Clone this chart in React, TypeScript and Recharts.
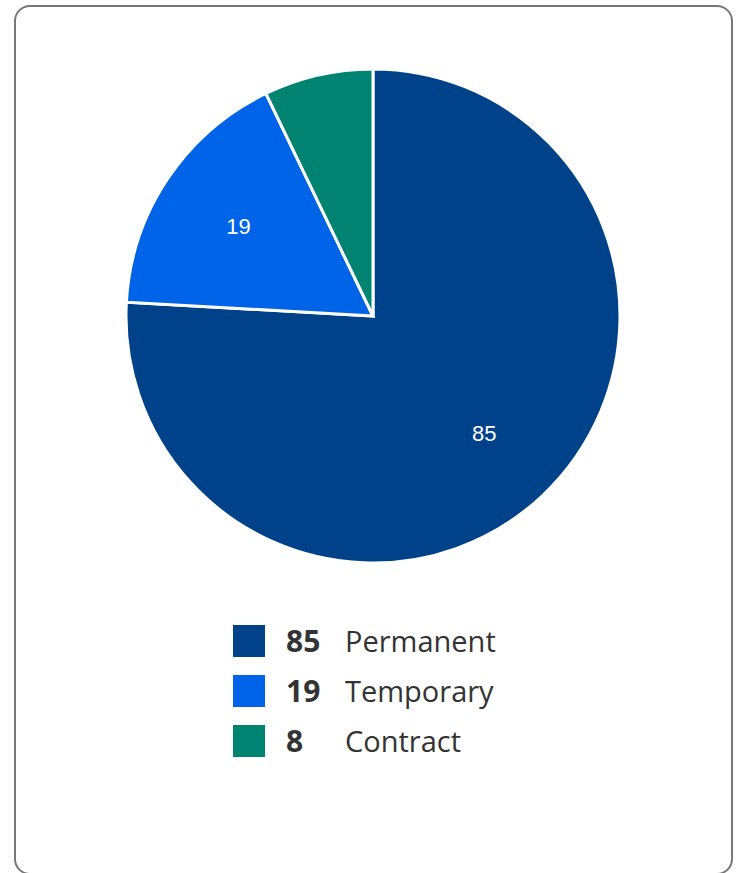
import { PieChart, Pie, Cell, Legend } from "recharts"

// employment type breakdown
const categories = ["Permanent", "Temporary", "Contract"]
const counts = [85, 19, 8]
const colors = ["#00428A", "#0064E8", "#008371"]

const data = categories.map((name, i) => ({ name, value: counts[i] }))

const RADIAN = Math.PI / 180

const renderLabel = (props: any) => {
  const { cx, cy, midAngle, outerRadius, value } = props
  // the small contract slice has no label
  if (value < 10) return null
  const r = outerRadius * 0.655
  const x = cx + r * Math.cos(-midAngle * RADIAN)
  const y = cy + r * Math.sin(-midAngle * RADIAN)
  return (
    <text
      x={x}
      y={y}
      fill="#ffffff"
      textAnchor="middle"
      dominantBaseline="central"
      style={{ fontFamily: "'Liberation Sans', Arial, sans-serif", fontSize: 22 }}
    >
      {value}
    </text>
  )
}

const LegendContent = () => (
  <div style={{ fontFamily: "'Open Sans', sans-serif", color: "#333333" }}>
    {data.map((d, i) => (
      <div key={d.name} style={{ display: "flex", alignItems: "center", height: 50 }}>
        <div style={{ width: 32, height: 32, background: colors[i], marginRight: 21 }} />
        <span style={{ fontWeight: 700, fontSize: 30, width: 59, lineHeight: "32px" }}>{d.value}</span>
        <span style={{ fontSize: 29, lineHeight: "32px" }}>{d.name}</span>
      </div>
    ))}
  </div>
)

export default function App() {
  return (
    <div
      style={{
        position: "absolute",
        left: 14,
        top: 5,
        width: 719,
        height: 870,
        boxSizing: "border-box",
        border: "2px solid #777777",
        borderRadius: 16,
        background: "#ffffff",
      }}
    >
      <PieChart width={715} height={866}>
        <Pie
          data={data}
          dataKey="value"
          nameKey="name"
          cx={352}
          cy={304}
          outerRadius={247}
          startAngle={90}
          endAngle={-270}
          stroke="#ffffff"
          strokeWidth={3}
          label={renderLabel}
          labelLine={false}
          isAnimationActive={false}
        >
          {data.map((d, i) => (
            <Cell key={d.name} fill={colors[i]} />
          ))}
        </Pie>
        <Legend
          content={<LegendContent />}
          wrapperStyle={{ position: "absolute", left: 217, top: 609, width: "auto" }}
        />
      </PieChart>
    </div>
  )
}
